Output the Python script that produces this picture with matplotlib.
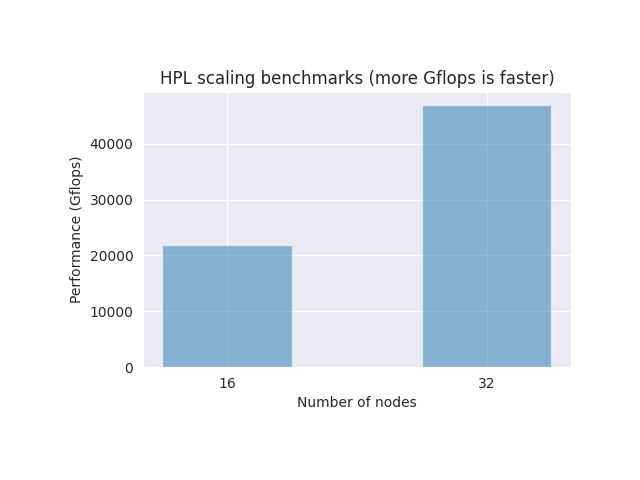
import matplotlib
matplotlib.use('Agg')
import matplotlib.pyplot as plt
import seaborn as sns

nodes = [16, 32]
gflops = [21900, 46900]

sns.set_style('darkgrid')

fig = plt.figure(figsize=(6.4, 4.8), dpi=100)
ax = fig.add_axes([0.2235, 0.235, 0.6685, 0.573])
ax.bar(nodes, gflops, width=8, alpha=0.5)
ax.set_xticks(nodes)
ax.set_xlabel('Number of nodes')
ax.set_ylabel('Performance (Gflops)')
ax.set_title('HPL scaling benchmarks (more Gflops is faster)')
plt.savefig('out.png')
